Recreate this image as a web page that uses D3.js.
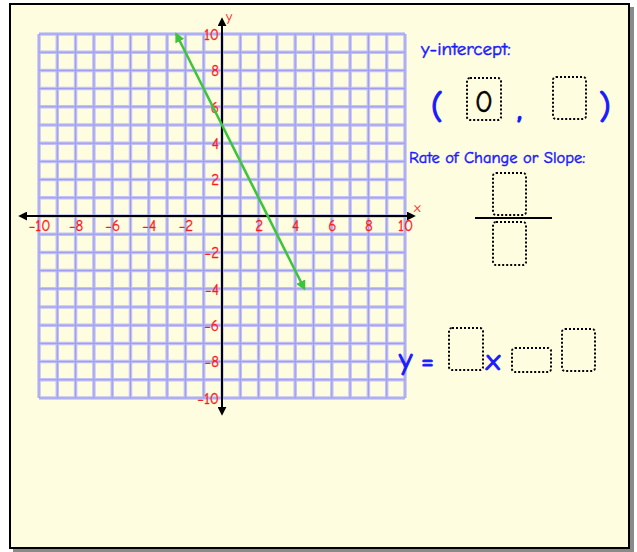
<!DOCTYPE html>
<html>
<head>
<meta charset="utf-8">
<script src="https://cdn.jsdelivr.net/npm/d3@7"></script>
<style>
body { margin: 0; background: #fff; }
svg text { font-family: "Comic Sans MS", "Comic Neue", "DejaVu Sans", sans-serif; }
</style>
</head>
<body>
<script>
// grid range and tick labels
var gridMin = -10, gridMax = 10;
var tickValues = [-10, -8, -6, -4, -2, 2, 4, 6, 8, 10];
// the drawn line (two end points, arrows on both ends)
var lineData = [{x: -2.5, y: 10}, {x: 4.5, y: -4}];
// answer boxes
var interceptX = "0";

var width = 637, height = 552;

var svg = d3.select("body").append("svg")
    .attr("width", width)
    .attr("height", height);

// page frame with shadow
svg.append("rect").attr("x", 13).attr("y", 7).attr("width", 621).attr("height", 545).attr("fill", "#8a8a8a");
svg.append("rect").attr("x", 10).attr("y", 4).attr("width", 619).attr("height", 544)
    .attr("fill", "#fffde0").attr("stroke", "#000").attr("stroke-width", 2);

// scales
var x = d3.scaleLinear().domain([gridMin, gridMax]).range([39, 405]);
var y = d3.scaleLinear().domain([gridMin, gridMax]).range([398, 34]);

var defs = svg.append("defs");
defs.append("marker").attr("id", "blackArrow")
    .attr("viewBox", "0 0 10 10").attr("refX", 8).attr("refY", 5)
    .attr("markerWidth", 4.5).attr("markerHeight", 4.5).attr("orient", "auto-start-reverse")
    .append("path").attr("d", "M0,0L10,5L0,10z").attr("fill", "#000");
defs.append("marker").attr("id", "greenArrow")
    .attr("viewBox", "0 0 10 10").attr("refX", 8).attr("refY", 5)
    .attr("markerWidth", 4).attr("markerHeight", 4).attr("orient", "auto-start-reverse")
    .append("path").attr("d", "M0,0L10,5L0,10z").attr("fill", "#3cc43c");

// grid
var gridVals = d3.range(gridMin, gridMax + 1);
var grid = svg.append("g");
["#c2c2f6", "#9c9cee"].forEach(function (c, i) {
    var w = i === 0 ? 3.5 : 1;
    grid.selectAll(null).data(gridVals).enter().append("line")
        .attr("x1", function (d) { return x(d); }).attr("x2", function (d) { return x(d); })
        .attr("y1", y(gridMax)).attr("y2", y(gridMin))
        .attr("stroke", c).attr("stroke-width", w);
    grid.selectAll(null).data(gridVals).enter().append("line")
        .attr("y1", function (d) { return y(d); }).attr("y2", function (d) { return y(d); })
        .attr("x1", x(gridMin)).attr("x2", x(gridMax))
        .attr("stroke", c).attr("stroke-width", w);
});

// axes lines with arrows
svg.append("line").attr("x1", 20).attr("x2", 414).attr("y1", y(0)).attr("y2", y(0))
    .attr("stroke", "#000").attr("stroke-width", 2)
    .attr("marker-start", "url(#blackArrow)").attr("marker-end", "url(#blackArrow)");
svg.append("line").attr("x1", x(0)).attr("x2", x(0)).attr("y1", 19).attr("y2", 414)
    .attr("stroke", "#000").attr("stroke-width", 2)
    .attr("marker-start", "url(#blackArrow)").attr("marker-end", "url(#blackArrow)");

// tick labels via d3 axes
var font = "'Comic Sans MS', 'Comic Neue', 'DejaVu Sans', sans-serif";
var xAxis = svg.append("g")
    .attr("transform", "translate(0," + y(0) + ")")
    .call(d3.axisBottom(x).tickValues(tickValues).tickSize(0).tickPadding(4));
var yAxis = svg.append("g")
    .attr("transform", "translate(" + x(0) + ",0)")
    .call(d3.axisLeft(y).tickValues(tickValues).tickSize(0).tickPadding(3));
[xAxis, yAxis].forEach(function (a) {
    a.select(".domain").remove();
    a.selectAll("text").attr("fill", "#ff1a1a").attr("stroke", "#ff1a1a").attr("stroke-width", 0.3)
        .style("font-size", "15px").style("font-family", font);
});
yAxis.selectAll("text").attr("dy", "0.35em");

svg.append("text").attr("x", 414).attr("y", 212).attr("fill", "#ff1a1a").style("font-size", "14px").text("x");
svg.append("text").attr("x", 226).attr("y", 21).attr("fill", "#ff1a1a").style("font-size", "14px").text("y");

// green line
var line = d3.line().x(function (d) { return x(d.x); }).y(function (d) { return y(d.y); });
svg.append("path").datum(lineData)
    .attr("d", line)
    .attr("fill", "none").attr("stroke", "#3cc43c").attr("stroke-width", 2.5)
    .attr("marker-start", "url(#greenArrow)").attr("marker-end", "url(#greenArrow)");

// right panel
var blue = "#1a1aff";
function box(x0, y0, w, h) {
    svg.append("rect").attr("x", x0).attr("y", y0).attr("width", w).attr("height", h)
        .attr("rx", 3).attr("fill", "none").attr("stroke", "#000")
        .attr("stroke-width", 2).attr("stroke-dasharray", "2,2");
}
function label(x0, y0, size, txt, sw) {
    return svg.append("text").attr("x", x0).attr("y", y0).attr("fill", blue)
        .attr("stroke", blue).attr("stroke-width", sw || 0.5)
        .style("font-size", size + "px").text(txt);
}
label(421, 55, 19, "y-intercept:");
label(431, 118, 34, "(", 1.2);
label(599, 118, 34, ")", 1.2);
label(517, 119, 30, ",", 1.5);
box(467, 78, 34, 42);
box(553, 77, 33, 42);
svg.append("text").attr("x", 484).attr("y", 112).attr("text-anchor", "middle").attr("fill", "#000")
    .attr("stroke", "#000").attr("stroke-width", 0.5)
    .style("font-size", "30px").text(interceptX);

label(409, 163, 16.5, "Rate of Change or Slope:");
box(493, 173, 33, 42);
svg.append("line").attr("x1", 475).attr("x2", 552).attr("y1", 218).attr("y2", 218).attr("stroke", "#000").attr("stroke-width", 2);
box(493, 222, 33, 43);

label(399, 369, 30, "y", 1);
label(421, 370, 28, "=", 1);
box(449, 328, 34, 42);
label(486, 370, 30, "x", 1);
box(512, 348, 39, 24);
box(562, 329, 33, 42);
</script>
</body>
</html>
